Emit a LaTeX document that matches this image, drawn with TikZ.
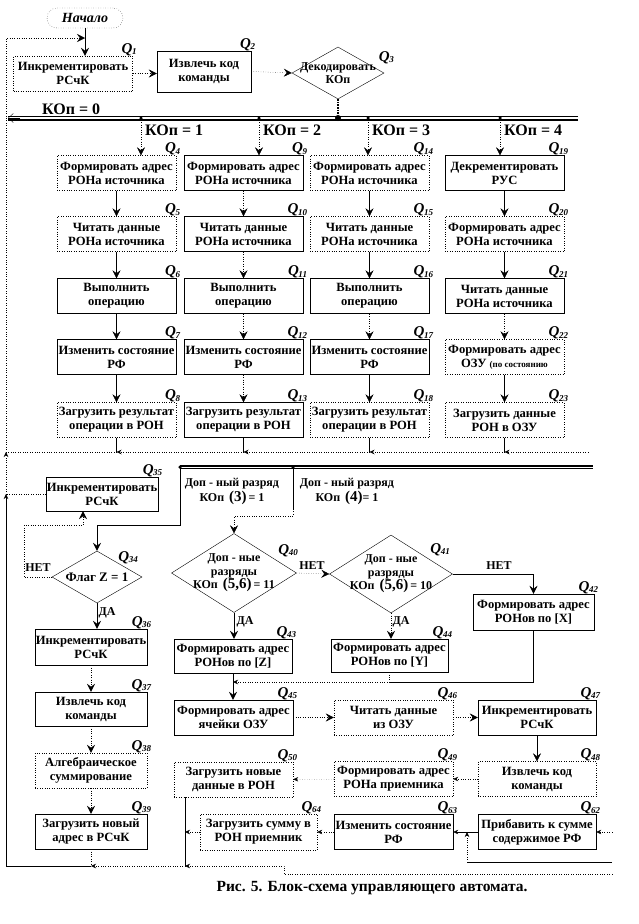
\documentclass[tikz,border=0pt]{standalone}
\usepackage{fontspec}
\setmainfont{Liberation Serif}
\usepackage{tikz}
\usetikzlibrary{shapes.geometric,arrows.meta,positioning}
\newcommand\Qn[1]{{\fontsize{15}{15}\selectfont Q}\kern-0.5pt\raisebox{-0.35ex}{\fontsize{9}{9}\selectfont #1}}
\tikzset
{
    block/.style    = {rectangle, draw=black, thin, minimum width=119pt, minimum height=35pt, inner sep=1pt, align=center, font=\fontsize{12.6}{14}\selectfont\bfseries},
    dblock/.style   = {block, dotted},
    cond/.style     = {diamond, draw=black, thin, inner sep=0pt},
    condtext/.style = {anchor=center, align=center, inner sep=0pt, font=\fontsize{12}{13.5}\selectfont\bfseries},
    qtag/.style     = {font=\bfseries\itshape, inner sep=0pt, anchor=south east},
    tagged/.style   = {label={[qtag, xshift=4pt]north east:\Qn{#1}}},
    note/.style     = {inner sep=0pt, align=center, font=\fontsize{12}{15}\selectfont\bfseries},
    kop/.style      = {inner sep=0pt, anchor=west, font=\fontsize{16}{16}\selectfont\bfseries},
    arrow/.style    = {-{Stealth[length=8pt, width=8pt, inset=3pt]}},
    darrow/.style   = {arrow, dotted},
    sarrow/.style   = {-{Stealth[length=5pt, width=4.5pt]}},
    dsarrow/.style  = {sarrow, dotted},
    wire/.style     = {thin},
    dwire/.style    = {thin, dotted},
    bus/.style      = {line width=2pt},
    tap/.style      = {circle, fill=black, inner sep=0pt, minimum size=3.5pt}
}

\begin{document}
\begin{tikzpicture}[x=1pt, y=-1pt]
   \newcommand\COLA{116.5}
   \newcommand\COLB{243.5}
   \newcommand\COLC{369.5}
   \newcommand\COLD{504.5}
   \newcommand\ROWA{173}
   \newcommand\ROWB{234}
   \newcommand\ROWC{296}
   \newcommand\ROWD{357}
   \newcommand\ROWE{420}
   \useasboundingbox (0,0) rectangle (638,924);

   % fetch and decode
   \node (start) [rectangle, rounded corners=10pt, draw, dotted, minimum width=76pt, minimum height=20pt, inner sep=0pt, font=\fontsize{14}{14}\selectfont\bfseries\itshape] at (85,18) {Начало};
   \node (q1) [dblock, tagged=1]                                         at (73,73.5)  {Инкрементировать\\РСчК};
   \node (q2) [block, tagged=2, minimum width=94pt, minimum height=41pt] at (204,71.5) {Извлечь код\\команды};
   \node (q3) [cond, minimum width=92pt, minimum height=52pt, label={[condtext]center:{Декодировать\\КОп}}] at (338,73) {};
   \node (q3tag) [qtag] at (394,64) {\Qn{3}};

   % opcode bus
   \coordinate (bus1w) at (8,118);
   \coordinate (bus1e) at (578,118);
   \node (hub) [tap, minimum size=6pt] at (338,118) {};
   \node (t1)  [tap] at (141,118) {};
   \node (t2)  [tap] at (259,118) {};
   \node (t3)  [tap] at (368,118) {};
   \node (t4)  [tap] at (500,118) {};
   \node (k0) [kop] at (42,109)  {КОп = 0};
   \node (k1) [kop] at (145,130) {КОп = 1};
   \node (k2) [kop] at (263,130) {КОп = 2};
   \node (k3) [kop] at (372,130) {КОп = 3};
   \node (k4) [kop] at (504,130) {КОп = 4};

   % four opcode columns
   \node (q4)  [dblock, tagged=4]  at (\COLA,\ROWA) {Формировать адрес\\РОНа источника};
   \node (q5)  [dblock, tagged=5]  at (\COLA,\ROWB) {Читать данные\\РОНа источника};
   \node (q6)  [block,  tagged=6]  at (\COLA,\ROWC) {Выполнить\\операцию};
   \node (q7)  [block,  tagged=7]  at (\COLA,\ROWD) {Изменить состояние\\РФ};
   \node (q8)  [dblock, tagged=8]  at (\COLA,\ROWE) {Загрузить результат\\операции в РОН};
   \node (q9)  [block,  tagged=9]  at (\COLB,\ROWA) {Формировать адрес\\РОНа источника};
   \node (q10) [block,  tagged=10] at (\COLB,\ROWB) {Читать данные\\РОНа источника};
   \node (q11) [block,  tagged=11] at (\COLB,\ROWC) {Выполнить\\операцию};
   \node (q12) [block,  tagged=12] at (\COLB,\ROWD) {Изменить состояние\\РФ};
   \node (q13) [block,  tagged=13] at (\COLB,\ROWE) {Загрузить результат\\операции в РОН};
   \node (q14) [dblock, tagged=14] at (\COLC,\ROWA) {Формировать адрес\\РОНа источника};
   \node (q15) [dblock, tagged=15] at (\COLC,\ROWB) {Читать данные\\РОНа источника};
   \node (q16) [block,  tagged=16] at (\COLC,\ROWC) {Выполнить\\операцию};
   \node (q17) [block,  tagged=17] at (\COLC,\ROWD) {Изменить состояние\\РФ};
   \node (q18) [dblock, tagged=18] at (\COLC,\ROWE) {Загрузить результат\\операции в РОН};
   \node (q19) [block,  tagged=19] at (\COLD,\ROWA) {Декрементировать\\РУС};
   \node (q20) [dblock, tagged=20] at (\COLD,\ROWB) {Формировать адрес\\РОНа источника};
   \node (q21) [block,  tagged=21] at (\COLD,\ROWC) {Читать данные\\РОНа источника};
   \node (q22) [dblock, tagged=22] at (\COLD,\ROWD) {Формировать адрес\\ОЗУ {\fontsize{9}{10}\selectfont(по состоянию}};
   \node (q23) [dblock, tagged=23] at (\COLD,\ROWE) {Загрузить данные\\РОН в ОЗУ};

   % return lines
   \coordinate (retE)   at (588,452);
   \coordinate (retW)   at (6,452);
   \coordinate (ltop)   at (6,38);
   \coordinate (loopin) at (85,38);
   \coordinate (lb)     at (6,866);

   % lower part
   \coordinate (s3)    at (180,467);
   \coordinate (s4)    at (293,467);
   \coordinate (bus2e) at (593,467);
   \coordinate (n34)   at (24,525);
   \coordinate (k3a)   at (180,525);
   \coordinate (k4a)   at (293,516);
   \node (d3) [note] at (232,491) {Доп - ный разряд\\КОп \,{\fontsize{15}{15}\selectfont(3)}\,= 1};
   \node (d4) [note] at (347,491) {Доп - ный разряд\\КОп \,{\fontsize{15}{15}\selectfont(4)}= 1};

   \node (q35) [block, tagged=35, minimum width=109pt, minimum height=34pt] at (102,494) {Инкрементировать\\РСчК};
   \node (q34) [cond, minimum width=90pt, minimum height=52pt, label={[condtext, font=\fontsize{13}{13}\selectfont\bfseries]center:{Флаг Z = 1}}] at (97,577) {};
   \node (q34tag) [qtag] at (138,564) {\Qn{34}};
   \node (q36) [block,  tagged=36, minimum width=112pt, minimum height=36pt] at (91,647)   {Инкрементировать\\РСчК};
   \node (q37) [block,  tagged=37, minimum width=112pt, minimum height=34pt] at (91,709)   {Извлечь код\\команды};
   \node (q38) [dblock, tagged=38, minimum width=112pt, minimum height=35pt] at (91,770.5) {Алгебраическое\\суммирование};
   \node (q39) [block,  tagged=39, minimum width=112pt, minimum height=35pt] at (91,831.5) {Загрузить новый\\адрес в РСчК};

   \node (q40) [cond, minimum width=125pt, minimum height=79pt, label={[condtext]center:{Доп - ные\\разряды\\КОп \,{\fontsize{15}{15}\selectfont(5,6)}\,= 11}}] at (234,573) {};
   \node (q40tag) [qtag] at (298,557) {\Qn{40}};
   \node (q41) [cond, minimum width=123pt, minimum height=78pt, label={[condtext]center:{Доп - ные\\разряды\\КОп \,{\fontsize{15}{15}\selectfont(5,6)}\,= 10}}] at (391,574) {};
   \node (q41tag) [qtag] at (450,556) {\Qn{41}};
   \node (q42) [block, tagged=42, minimum width=121pt, minimum height=36pt] at (533.5,612) {Формировать адрес\\РОНов по [X]};
   \node (q43) [block, tagged=43, minimum width=118pt, minimum height=34pt] at (233,656)   {Формировать адрес\\РОНов по [Z]};
   \node (q44) [block, tagged=44, minimum width=117pt, minimum height=33pt] at (389.5,655.5) {Формировать адрес\\РОНов по [Y]};
   \coordinate (j44) at (389.5,682);
   \coordinate (j43) at (233,682);

   \node (q45) [block,  tagged=45]                    at (233.5,717.5) {Формировать адрес\\ячейки ОЗУ};
   \node (q46) [dblock, tagged=46]                    at (393.5,717.5) {Читать данные\\из ОЗУ};
   \node (q47) [block,  tagged=47, minimum width=118pt] at (537,717.5)   {Инкрементировать\\РСчК};
   \node (q48) [dblock, tagged=48, minimum width=118pt] at (537,779)     {Извлечь код\\команды};
   \node (q49) [dblock, tagged=49]                    at (393.5,779)   {Формировать адрес\\РОНа приемника};
   \node (q50) [dblock, tagged=50]                    at (233.5,779.5) {Загрузить новые\\данные в РОН};
   \node (q62) [block,  tagged=62, minimum width=118pt] at (537,832)     {Прибавить к сумме\\содержимое РФ};
   \node (q63) [block,  tagged=63]                    at (393.5,832)   {Изменить состояние\\РФ};
   \node (q64) [dblock, tagged=64, minimum width=117pt, minimum height=36pt] at (258.5,832) {Загрузить сумму в\\РОН приемник};

   \coordinate (b39) at (91,866);
   \coordinate (b50) at (185,866);
   \coordinate (e1)  at (612,874);
   \coordinate (e2)  at (284,874);
   \coordinate (e3)  at (612,832);
   \coordinate (e4)  at (612,862);
   \coordinate (e5)  at (467,862);

   \node (no34) [note] at (38,568)  {НЕТ};
   \node (no40) [note] at (312,566) {НЕТ};
   \node (no41) [note] at (499,566) {НЕТ};
   \node (da34) [note] at (107,613) {ДА};
   \node (da40) [note] at (245,622) {ДА};
   \node (da41) [note] at (401,622) {ДА};

   \node (cap) [inner sep=0pt, font=\fontsize{15.5}{15.5}\selectfont\bfseries] at (372,888) {Рис. 5. Блок-схема управляющего автомата.};

   % buses
   \draw[bus] ([yshift=-1.5pt]bus1e) -- ([yshift=-1.5pt]bus1w);
   \draw[wire] ([yshift=1.5pt]bus1e) -- ([yshift=1.5pt]bus1w);
   \draw[-{Straight Barb[length=5pt, width=9pt]}] (20,118) -- (bus1w);
   \draw[bus] ([yshift=1.5pt]s3) -- ([yshift=1.5pt]bus2e);
   \draw[wire] ([yshift=-1.5pt]s3) -- ([yshift=-1.5pt]bus2e);
   \node (s3dot) [tap] at (s3) {};
   \node (s4dot) [tap] at (s4) {};
   \draw[line width=1.6pt, densely dotted] (q3.south) -- (hub);

   \path
      (start.south)     edge[arrow]  (start.south |- q1.north)
      (q1.east)         edge[darrow] (q1.east -| q2.west)
      (q2.east)         edge[darrow] (q3.west)
      (t1)              edge[darrow] (t1 |- q4.north)
      (t2)              edge[darrow] (t2 |- q9.north)
      (t3)              edge[darrow] (t3 |- q14.north)
      (t4)              edge[darrow] (t4 |- q19.north)
      (q4)  edge[arrow]  (q5)   (q5)  edge[arrow]  (q6)   (q6)  edge[arrow]  (q7)   (q7)  edge[arrow]  (q8)
      (q9)  edge[darrow] (q10)  (q10) edge[darrow] (q11)  (q11) edge[darrow] (q12)  (q12) edge[darrow] (q13)
      (q14) edge[arrow]  (q15)  (q15) edge[arrow]  (q16)  (q16) edge[darrow] (q17)  (q17) edge[arrow]  (q18)
      (q19) edge[arrow]  (q20)  (q20) edge[arrow]  (q21)  (q21) edge[darrow] (q22)  (q22) edge[arrow]  (q23)
      (q8.south)        edge[wire]   (q8.south |- retE)
      (q13.south)       edge[wire]   (q13.south |- retE)
      (q18.south)       edge[wire]   (q18.south |- retE)
      (q23.south)       edge[wire]   (q23.south |- retE)
      (retE)            edge[dsarrow] (q23.south |- retE)
      (q23.south |- retE) edge[dsarrow] (q18.south |- retE)
      (q18.south |- retE) edge[dsarrow] (q13.south |- retE)
      (q13.south |- retE) edge[dsarrow] (q8.south |- retE)
      (q8.south |- retE)  edge[dwire]   (retW);

   % way back to the start
   \draw[sarrow] (lb) -- (q35.west -| lb);
   \draw[dsarrow] (q35.west -| lb) -- (retW);
   \draw[darrow] (retW) -- (ltop) -- (loopin);
   \draw[dwire] (q35.west) -- (q35.west -| lb);

   % conditional branches
   \draw[arrow] (s3) -- (k3a) -| (q34.north);
   \draw[wire] (s4) -- ([yshift=7pt]k4a);
   \draw[darrow] ([yshift=7pt]k4a) -- (k4a) -| (q40.north);
   \draw[darrow] (q34.west) -| (n34) -| ([xshift=-19pt]q35.south);
   \draw[arrow] (q34.south) -- (q34.south |- q36.north);
   \path
      (q36) edge[darrow] (q37)
      (q37) edge[darrow] (q38)
      (q38) edge[darrow] (q39)
      (q40.east)  edge[darrow] (q41.west)
      (q40.south) edge[arrow]  (q40.south |- q43.north)
      (q41.south) edge[darrow] (q41.south |- q44.north)
      (q44.south) edge[dwire]  (j44)
      (j44)       edge[dsarrow] (j43)
      (q43.south) edge[arrow]  (q43.south |- q45.north)
      (q45) edge[darrow] (q46)
      (q46) edge[darrow] (q47)
      (q47) edge[arrow]  (q48)
      (q48) edge[dsarrow] (q49)
      (q49) edge[dsarrow] (q50)
      (q62) edge[sarrow]  (q63)
      (q63) edge[dsarrow] (q64)
      (e3)  edge[dsarrow] (q62.east)
      (e4)  edge[wire]    (e5)
      (e5)  edge[dsarrow] (e5 |- q62.west);
   \draw[arrow] (q41.east) -| (q42.north);
   \draw[wire] (q42.south) |- (j44);

   % bottom collector
   \draw[dwire] (q39.south) -- (b39);
   \draw[wire] (b50 |- q50.south) -- (b50);
   \draw[dsarrow] (q64.west) -- (q64.west -| b50);
   \draw[dsarrow] (b50) -- (b39);
   \draw[wire] (b39) -- (lb);
   \draw[dsarrow] (e1) -- (e2) |- (b50);
\end{tikzpicture}
\end{document}
